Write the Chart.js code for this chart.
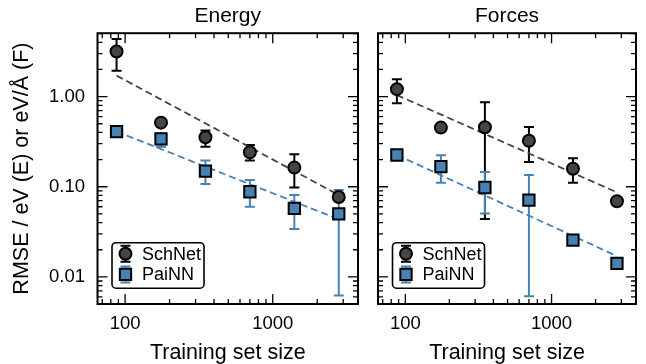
<!DOCTYPE html>
<html>
<head>
<meta charset="utf-8">
<script src="https://cdn.jsdelivr.net/npm/chart.js@4.4.1/dist/chart.umd.min.js"></script>
<style>
  html, body { margin: 0; padding: 0; background: #fff; }
  #wrap { position: relative; width: 646px; height: 364px; }
  canvas { position: absolute; top: 0; }
  #energyChart { left: 0; }
  #forcesChart { left: 368px; }
</style>
</head>
<body>
<div id="wrap">
  <canvas id="energyChart" width="368" height="364"></canvas>
  <canvas id="forcesChart" width="278" height="364"></canvas>
</div>
<script>
const trainSizes = [87.5, 175, 350, 700, 1400, 2800];
const fitSizes = [87.5, 2800];

const energySchNet = [3.16, 0.514, 0.354, 0.241, 0.163, 0.077];
const energySchNetLo = [1.94, 0.495, 0.278, 0.196, 0.098, 0.072];
const energySchNetHi = [4.35, 0.535, 0.42, 0.29, 0.229, 0.083];
const energyPaiNN = [0.408, 0.339, 0.149, 0.088, 0.0575, 0.05];
const energyPaiNNLo = [0.39, 0.278, 0.107, 0.06, 0.034, 0.0062];
const energyPaiNNHi = [0.43, 0.39, 0.195, 0.119, 0.081, 0.092];
const energySchNetFit = [1.71, 0.081];
const energyPaiNNFit = [0.41, 0.0435];

const forcesSchNet = [1.21, 0.453, 0.457, 0.324, 0.158, 0.069];
const forcesSchNetLo = [0.845, 0.44, 0.0438, 0.188, 0.111, 0.066];
const forcesSchNetHi = [1.56, 0.47, 0.867, 0.46, 0.207, 0.072];
const forcesPaiNN = [0.225, 0.167, 0.098, 0.0711, 0.0256, 0.0141];
const forcesPaiNNLo = [0.21, 0.111, 0.0506, 0.0061, 0.0245, 0.0135];
const forcesPaiNNHi = [0.24, 0.223, 0.146, 0.135, 0.0268, 0.0148];
const forcesSchNetFit = [1.04, 0.0866];
const forcesPaiNNFit = [0.225, 0.017];

const xTickValues = [100, 1000];
const xTickLabels = ['100', '1000'];
const yTickValues = [0.01, 0.1, 1];
const yTickLabels = ['0.01', '0.10', '1.00'];

const FONT = '"Liberation Sans", Arial, sans-serif';
const GREY = '#454545';
const BLUE = '#4682b4';

// vertical error bars with caps, drawn under the markers
const errorBars = {
  id: 'errorBars',
  beforeDatasetsDraw(chart) {
    const ctx = chart.ctx, xs = chart.scales.x, ys = chart.scales.y;
    chart.data.datasets.forEach(ds => {
      if (!ds.errLo) return;
      ctx.save();
      ctx.strokeStyle = ds.errColor;
      ctx.lineWidth = 2;
      ds.data.forEach((p, i) => {
        const px = xs.getPixelForValue(p.x);
        const lo = ys.getPixelForValue(ds.errLo[i]);
        const hi = ys.getPixelForValue(ds.errHi[i]);
        ctx.beginPath();
        ctx.moveTo(px, lo); ctx.lineTo(px, hi);
        ctx.moveTo(px - 5, lo); ctx.lineTo(px + 5, lo);
        ctx.moveTo(px - 5, hi); ctx.lineTo(px + 5, hi);
        ctx.stroke();
      });
      ctx.restore();
    });
  }
};

// matplotlib-like legend box in the lower left corner
const boxLegend = {
  id: 'boxLegend',
  afterDatasetsDraw(chart) {
    const ctx = chart.ctx, a = chart.chartArea;
    const items = chart.data.datasets.filter(d => d.errLo);
    const left = a.left + 14.5, top = a.top + 209.5;
    ctx.save();
    ctx.font = '18px ' + FONT;
    const tw = Math.max(...items.map(d => ctx.measureText(d.label).width));
    const w = 30 + tw + 3, h = 45.5;
    ctx.beginPath();
    ctx.roundRect(left, top, w, h, 4);
    ctx.fillStyle = '#fff';
    ctx.fill();
    ctx.lineWidth = 1.6;
    ctx.strokeStyle = '#000';
    ctx.stroke();
    items.forEach((d, i) => {
      const cx = left + 13.5, cy = top + 11 + i * 20.7;
      ctx.strokeStyle = d.errColor;
      ctx.lineWidth = 2;
      ctx.beginPath();
      ctx.moveTo(cx, cy - 8); ctx.lineTo(cx, cy + 8);
      ctx.moveTo(cx - 5, cy - 8); ctx.lineTo(cx + 5, cy - 8);
      ctx.moveTo(cx - 5, cy + 8); ctx.lineTo(cx + 5, cy + 8);
      ctx.stroke();
      ctx.fillStyle = d.backgroundColor;
      ctx.strokeStyle = '#000';
      ctx.lineWidth = 2;
      ctx.beginPath();
      if (d.pointStyle === 'rect') {
        const s = d.pointRadius * Math.SQRT1_2;
        ctx.rect(cx - s, cy - s, 2 * s, 2 * s);
      } else {
        ctx.arc(cx, cy, d.pointRadius, 0, Math.PI * 2);
      }
      ctx.fill();
      ctx.stroke();
      ctx.fillStyle = '#000';
      ctx.textBaseline = 'middle';
      ctx.textAlign = 'left';
      ctx.fillText(d.label, left + 30, cy + 1);
    });
    ctx.restore();
  }
};

// inward major/minor ticks on all four sides plus the frame
const frameTicks = {
  id: 'frameTicks',
  afterDraw(chart) {
    const ctx = chart.ctx, a = chart.chartArea, xs = chart.scales.x, ys = chart.scales.y;
    const logTicks = (min, max) => {
      const out = [];
      for (let e = Math.floor(Math.log10(min)); e <= Math.ceil(Math.log10(max)); e++) {
        for (let m = 1; m < 10; m++) {
          const v = m * Math.pow(10, e);
          if (v >= min && v <= max) out.push({ v, major: m === 1 });
        }
      }
      return out;
    };
    ctx.save();
    ctx.strokeStyle = '#000';
    ctx.lineWidth = 1.3;
    ctx.beginPath();
    logTicks(xs.min, xs.max).forEach(t => {
      const px = xs.getPixelForValue(t.v), len = t.major ? 10 : 5;
      ctx.moveTo(px, a.bottom); ctx.lineTo(px, a.bottom - len);
      ctx.moveTo(px, a.top); ctx.lineTo(px, a.top + len);
    });
    logTicks(ys.min, ys.max).forEach(t => {
      const py = ys.getPixelForValue(t.v), len = t.major ? 10 : 5;
      ctx.moveTo(a.left, py); ctx.lineTo(a.left + len, py);
      ctx.moveTo(a.right, py); ctx.lineTo(a.right - len, py);
    });
    ctx.stroke();
    ctx.lineWidth = 2;
    ctx.strokeRect(a.left, a.top, a.right - a.left, a.bottom - a.top);
    ctx.restore();
  }
};

function points(ys, xs) {
  return ys.map((y, i) => ({ x: xs[i], y }));
}

function makeChart(id, title, schnet, schnetLo, schnetHi, painn, painnLo, painnHi, schnetFit, painnFit, showY, yWidth, padRight) {
  return new Chart(document.getElementById(id), {
    type: 'line',
    data: {
      datasets: [
        {
          label: 'SchNet', data: points(schnet, trainSizes), showLine: false,
          pointStyle: 'circle', pointRadius: 6, backgroundColor: GREY, borderColor: '#000',
          pointBorderWidth: 2, errLo: schnetLo, errHi: schnetHi, errColor: '#000', order: 1
        },
        {
          label: 'PaiNN', data: points(painn, trainSizes), showLine: false,
          pointStyle: 'rect', pointRadius: 8, backgroundColor: BLUE, borderColor: '#000',
          pointBorderWidth: 2, errLo: painnLo, errHi: painnHi, errColor: BLUE, order: 1
        },
        {
          label: 'SchNet fit', data: points(schnetFit, fitSizes), borderColor: GREY,
          borderWidth: 1.8, borderDash: [7, 4], pointRadius: 0, order: 2
        },
        {
          label: 'PaiNN fit', data: points(painnFit, fitSizes), borderColor: BLUE,
          borderWidth: 1.8, borderDash: [7, 4], pointRadius: 0, order: 2
        }
      ]
    },
    options: {
      responsive: false,
      animation: false,
      layout: { padding: { left: 0, right: padRight, top: 0, bottom: 0 } },
      plugins: {
        legend: { display: false },
        tooltip: { enabled: false },
        title: {
          display: true, text: title, color: '#000', fullSize: false,
          font: { family: FONT, size: 21, weight: 'normal' },
          padding: { top: 4, bottom: 4 }
        }
      },
      scales: {
        x: {
          type: 'logarithmic', min: 65, max: 3780,
          grid: { display: false, drawTicks: false },
          border: { display: false },
          afterBuildTicks: s => { s.ticks = xTickValues.map(v => ({ value: v })); },
          afterFit: s => { s.height = 60; },
          ticks: {
            autoSkip: false, maxRotation: 0, padding: 9, color: '#000',
            font: { family: FONT, size: 18.5 },
            callback: (v, i) => xTickLabels[i]
          },
          title: {
            display: true, text: 'Training set size', color: '#000',
            font: { family: FONT, size: 21.5, lineHeight: 1 },
            padding: { top: 0, bottom: 0.5 }
          }
        },
        y: {
          type: 'logarithmic', min: 0.005, max: 5.05,
          grid: { display: false, drawTicks: false },
          border: { display: false },
          afterBuildTicks: s => { s.ticks = yTickValues.map(v => ({ value: v })); },
          afterFit: s => { s.width = yWidth; },
          ticks: {
            display: showY, autoSkip: false, padding: 12.5, color: '#000',
            font: { family: FONT, size: 18.5 },
            callback: (v, i) => yTickLabels[i]
          },
          title: {
            display: showY, text: 'RMSE / eV (E) or eV/Å (F)', color: '#000',
            font: { family: FONT, size: 21.5, lineHeight: 1 },
            padding: { top: 11, bottom: 0 }
          }
        }
      }
    },
    plugins: [errorBars, boxLegend, frameTicks]
  });
}

makeChart('energyChart', 'Energy', energySchNet, energySchNetLo, energySchNetHi,
  energyPaiNN, energyPaiNNLo, energyPaiNNHi, energySchNetFit, energyPaiNNFit, true, 97.5, 5.8);
makeChart('forcesChart', 'Forces', forcesSchNet, forcesSchNetLo, forcesSchNetHi,
  forcesPaiNN, forcesPaiNNLo, forcesPaiNNHi, forcesSchNetFit, forcesPaiNNFit, false, 7, 6.3);
</script>
</body>
</html>
